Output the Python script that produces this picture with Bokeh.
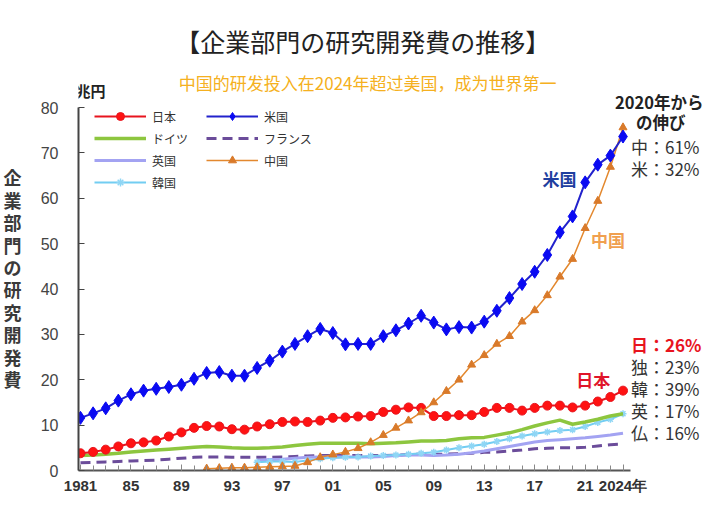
from bokeh.plotting import figure
from bokeh.models import Range1d, FixedTicker, Label, Legend, LegendItem, LinearAxis
from bokeh.embed import file_html
from bokeh.resources import INLINE

nan = float("nan")

# ---------------- data (兆円) ----------------
years = list(range(1981, 2025))

japan = [3.8, 4.1, 4.6, 5.3, 6.0, 6.2, 6.6, 7.5, 8.4, 9.4,
         9.8, 9.7, 9.1, 9.0, 9.7, 10.2, 10.7, 10.8, 10.7, 11.0,
         11.6, 11.7, 11.9, 12.0, 12.9, 13.4, 13.9, 13.8, 12.0, 12.0,
         12.2, 12.2, 12.9, 13.8, 13.8, 13.2, 13.8, 14.3, 14.3, 13.9,
         14.3, 15.2, 16.2, 17.6]

usa = [11.6, 12.6, 13.7, 15.4, 16.8, 17.6, 18.0, 18.4, 18.9, 20.2,
       21.5, 21.7, 20.9, 20.9, 22.6, 24.2, 26.2, 27.9, 29.6, 31.2,
       30.3, 27.8, 27.9, 27.9, 29.6, 30.9, 32.4, 34.1, 32.6, 31.1,
       31.6, 31.5, 32.8, 35.2, 38.0, 41.1, 43.8, 47.5, 52.5, 56.0,
       63.5, 67.4, 69.4, 73.6]

germany = [3.3, 3.4, 3.6, 3.8, 4.1, 4.3, 4.5, 4.7, 4.9, 5.1,
           5.3, 5.2, 5.0, 4.9, 4.9, 5.0, 5.2, 5.5, 5.8, 6.0,
           6.0, 6.0, 6.0, 5.9, 6.0, 6.1, 6.3, 6.5, 6.5, 6.6,
           7.0, 7.2, 7.3, 7.8, 8.3, 9.0, 9.8, 10.5, 11.1, 10.2,
           10.7, 11.3, 12.0, 12.5]

france = [1.7, 1.8, 1.9, 2.0, 2.1, 2.2, 2.3, 2.5, 2.7, 2.9,
          3.0, 3.0, 2.9, 2.9, 2.9, 2.9, 3.0, 3.1, 3.2, 3.3,
          3.3, 3.3, 3.3, 3.3, 3.3, 3.4, 3.5, 3.6, 3.6, 3.6,
          3.7, 3.8, 4.0, 4.1, 4.3, 4.5, 4.8, 4.9, 5.0, 5.0,
          5.1, 5.4, 5.7, 5.8]

uk = [nan] * 14 + [2.2, 2.4, 2.5, 2.7, 2.9, 3.0,
                   3.0, 3.0, 3.0, 3.0, 3.1, 3.3, 3.4, 3.4, 3.3, 3.4,
                   3.6, 3.9, 4.3, 4.8, 5.3, 5.8, 6.3, 6.6, 6.8, 7.0,
                   7.2, 7.5, 7.8, 8.2]

china = [nan] * 10 + [0.4, 0.5, 0.6, 0.6, 0.7, 0.8, 0.9, 1.0, 1.8, 2.9,
                      3.5, 4.1, 4.9, 6.2, 7.8, 9.4, 11.0, 12.8, 15.0, 17.5,
                      20.0, 23.3, 25.4, 27.9, 29.6, 32.8, 35.3, 38.6, 42.7, 46.6,
                      53.4, 59.4, 66.9, 75.6]

korea = [nan] * 14 + [1.8, 2.0, 2.0, 1.9, 2.2, 2.6,
                      2.8, 2.9, 3.0, 3.2, 3.3, 3.4, 3.6, 3.8, 4.0, 4.5,
                      5.0, 5.4, 5.8, 6.4, 7.0, 7.6, 8.1, 8.5, 8.8, 9.0,
                      9.7, 10.6, 11.3, 12.5]

x_ticks = [1981, 1985, 1989, 1993, 1997, 2001, 2005, 2009, 2013, 2017, 2021, 2024]
x_tick_labels = ["1981", "85", "89", "93", "97", "01", "05", "09", "13", "17", "21", "2024年"]
y_ticks = [0, 10, 20, 30, 40, 50, 60, 70, 80]

y_title = "企業部門の研究開発費"
growth_top = ["中：61%", "米：32%"]
growth_bottom = ["日：26%", "独：23%", "韓：39%", "英：17%", "仏：16%"]

JP = "Noto Sans CJK JP"
SC = "Noto Sans CJK SC"

# ---------------- geometry ----------------
W, H = 703, 498
FL = 74                       # frame left = y-axis line
FB = 470                      # frame bottom = x-axis line (y = 0)
TOP80 = 107                   # pixel of y = 80
px_year = (622 - 76) / 43
X0 = 1981 - (76 - FL) / px_year
X1 = X0 + (W - FL) / px_year
px_unit = (FB - TOP80) / 80
Y0, Y1 = 0, FB / px_unit
X_AXIS_END = 2024.6
REF_Y0, REF_PX_UNIT = 482, 375 / 80   # value scale of the reference picture

p = figure(width=W, height=H, x_range=Range1d(X0, X1), y_range=Range1d(Y0, Y1),
           output_backend="svg", toolbar_location=None,
           min_border_left=FL, min_border_right=0, min_border_top=0, min_border_bottom=H - FB)
p.outline_line_color = None
p.grid.visible = False
p.background_fill_color = "white"


def at(rx, ry):
    """reference-picture pixel -> data coordinates"""
    x = X0 + (rx - FL) / px_year
    if ry >= 100:
        y = (REF_Y0 - ry) / REF_PX_UNIT
    else:
        y = 80 + (TOP80 - ry) / px_unit
    return x, y


# x axis
xa = p.xaxis[0]
xa.bounds = (X0, X_AXIS_END)
xa.ticker = FixedTicker(ticks=x_ticks, minor_ticks=years)
xa.major_label_overrides = {t: l for t, l in zip(x_ticks, x_tick_labels)}
xa.major_tick_in, xa.major_tick_out = 6, 0
xa.minor_tick_in, xa.minor_tick_out = 5, 0
xa.axis_line_width = 2
xa.axis_line_color = "#555555"
xa.major_tick_line_color = "#888888"
xa.minor_tick_line_color = "#888888"
xa.major_label_text_font = "Liberation Sans"
xa.major_label_text_font_style = "bold"
xa.major_label_text_font_size = "15px"
xa.major_label_text_color = "#333333"
xa.major_label_standoff = 6

# y axis
ya = p.yaxis[0]
ya.bounds = (0, 80)
ya.ticker = FixedTicker(ticks=y_ticks)
ya.major_tick_in, ya.major_tick_out = 6, 0
ya.minor_tick_line_color = None
ya.axis_line_width = 2
ya.axis_line_color = "#444444"
ya.major_tick_line_color = "#444444"
ya.major_label_text_font = "Liberation Sans"
ya.major_label_text_font_size = "16px"
ya.major_label_text_color = "#444444"
ya.major_label_standoff = 20

# vertical title as an outer left axis whose tick labels are the characters
char_ticks = [round(at(0, 179 + i * 23.2)[1], 2) for i in range(len(y_title))]
ta = LinearAxis(ticker=FixedTicker(ticks=char_ticks),
                major_label_overrides={t: c for t, c in zip(char_ticks, y_title)},
                axis_line_color=None, major_tick_line_color=None, minor_tick_line_color=None,
                major_label_standoff=10, major_label_text_font=JP,
                major_label_text_font_size="18px", major_label_text_font_style="bold",
                major_label_text_color="#3a3a3a")
p.add_layout(ta, "left")

# series
fr = p.line(years, france, line_color="#6B4C9A", line_width=3, line_dash="10 6")
ukl = p.line(years, uk, line_color="#A3A3F2", line_width=3)
kol = p.line(years, korea, line_color="#72CDF2", line_width=2)
kos = p.scatter(years, korea, marker="asterisk", size=7, line_color="#8FD6F5", line_width=1.5)
del_ = p.line(years, germany, line_color="#8DC63F", line_width=3.5)
jpl = p.line(years, japan, line_color="#E8141E", line_width=2)
jps = p.scatter(years, japan, marker="circle", size=9, fill_color="#FF1212", line_color="#E8141E")
cnl = p.line(years, china, line_color="#E3882E", line_width=1.5)
cns = p.scatter(years, china, marker="triangle", size=8, fill_color="#D97A2A", line_color="#D97A2A")
usl = p.line(years, usa, line_color="#2222CC", line_width=2)
uss = p.scatter(years, usa, marker="diamond", size=13, fill_color="#0A0AF2", line_color="#0A0AF2")

legend_top = 116 - 10
legend_h = 4 * 20 + 3 * 2
legend = Legend(items=[
    LegendItem(label="日本", renderers=[jpl, jps]),
    LegendItem(label="ドイツ", renderers=[del_]),
    LegendItem(label="英国", renderers=[ukl]),
    LegendItem(label="韓国", renderers=[kol, kos]),
    LegendItem(label="米国", renderers=[usl, uss]),
    LegendItem(label="フランス", renderers=[fr]),
    LegendItem(label="中国", renderers=[cnl, cns]),
], ncols=2, location=(90 - FL, FB - legend_top - legend_h),
    margin=0, padding=0, spacing=2,
    glyph_width=52, glyph_height=20, label_height=20, label_width=52, label_standoff=6,
    label_text_font=JP, label_text_font_size="12px", label_text_color="#333333",
    border_line_color=None, background_fill_alpha=0)
p.add_layout(legend, "center")


def lab(text, rx, ry, size, color="#333333", style="normal", align="center", font=JP):
    x, y = at(rx, ry)
    p.add_layout(Label(x=x, y=y, text=text, text_font=font, text_font_size=size,
                       text_color=color, text_font_style=style, text_align=align,
                       text_baseline="middle"))


# titles
lab("【企業部門の研究開発費の推移】", 360, 40, "25px", "#222222")
lab("中国的研发投入在2024年超过美国，成为世界第一", 365, 82, "17px", "#F5B020", font=SC)
lab("兆円", 86, 90, "15px", "#222222", "bold")

# series labels
lab("米国", 558, 180, "17px", "#1F3F9F", "bold")
lab("中国", 607, 243, "17px", "#F0A050", "bold")
lab("日本", 592, 388, "17px", "#E0142A", "bold")

# growth since 2020
lab("2020年から", 614, 101, "16.5px", "#222222", "bold", "left")
lab("の伸び", 660, 122, "16.5px", "#222222", "bold")
for i, t in enumerate(growth_top):
    lab(t, 630, 147 + i * 23, "17px", "#333333", "normal", "left")
for i, t in enumerate(growth_bottom):
    if i == 0:
        lab(t, 630, 352, "17px", "#E8141E", "bold", "left")
    else:
        lab(t, 630, 352 + i * 22.8, "17px", "#333333", "normal", "left")

open("out.html", "w").write(file_html(p, INLINE))
